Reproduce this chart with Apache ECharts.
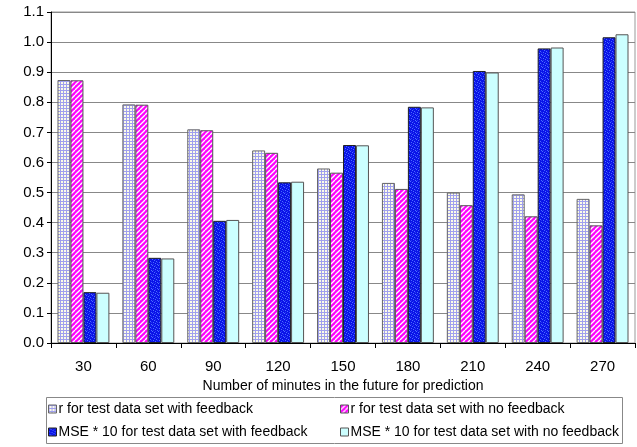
<!DOCTYPE html>
<html>
<head>
<meta charset="utf-8">
<script src="https://cdn.jsdelivr.net/npm/echarts@6/dist/echarts.min.js"></script>
<style>
html,body{margin:0;padding:0;background:#fff;}
#chart{width:637px;height:447px;}
</style>
</head>
<body>
<div id="chart"></div>
<script>
// ---- data ----
const categories = ['30','60','90','120','150','180','210','240','270'];
const seriesNames = [
  'r for test data set with feedback',
  'r for test data set with no feedback',
  'MSE * 10 for test data set with feedback',
  'MSE * 10 for test data set with no feedback'
];
const rFeedback   = [0.874, 0.793, 0.710, 0.640, 0.580, 0.532, 0.500, 0.494, 0.479];
const rNoFeedback = [0.873, 0.792, 0.707, 0.632, 0.566, 0.512, 0.458, 0.421, 0.391];
const mseFeedback   = [0.169, 0.283, 0.406, 0.534, 0.658, 0.785, 0.904, 0.979, 1.016];
const mseNoFeedback = [0.167, 0.281, 0.409, 0.536, 0.657, 0.783, 0.899, 0.982, 1.026];
const yTicks = { min: 0, max: 1.1, interval: 0.1 };

// ---- patterns ----
function makePattern(w, h, draw) {
  const c = document.createElement('canvas');
  c.width = w; c.height = h;
  const ctx = c.getContext('2d');
  draw(ctx, w, h);
  return { image: c, repeat: 'repeat' };
}
const gridPattern = makePattern(3, 3, (ctx) => {
  ctx.fillStyle = '#fbfbe8'; ctx.fillRect(0, 0, 3, 3);
  ctx.fillStyle = '#a0a0ee'; ctx.fillRect(0, 0, 3, 1); ctx.fillRect(0, 0, 1, 3);
});
const stripePattern = makePattern(5, 5, (ctx) => {
  ctx.fillStyle = '#ff00ff'; ctx.fillRect(0, 0, 5, 5);
  ctx.strokeStyle = '#ffffff'; ctx.lineWidth = 1.3;
  for (let k = -5; k <= 10; k += 5) {
    ctx.beginPath(); ctx.moveTo(k, 5); ctx.lineTo(k + 5, 0); ctx.stroke();
  }
});
const bluePattern = makePattern(6, 6, (ctx) => {
  ctx.fillStyle = '#0a14e8'; ctx.fillRect(0, 0, 6, 6);
  ctx.fillStyle = '#4a6cff';
  ctx.fillRect(1, 0, 1, 1); ctx.fillRect(2, 1, 1, 1); ctx.fillRect(4, 2, 1, 1);
  ctx.fillRect(0, 3, 1, 1); ctx.fillRect(3, 4, 1, 1); ctx.fillRect(5, 5, 1, 1);
  ctx.fillStyle = '#2836f0';
  ctx.fillRect(3, 0, 1, 1); ctx.fillRect(5, 1, 1, 1); ctx.fillRect(1, 4, 1, 1);
});
const cyanColor = '#ccffff';

const fills = [gridPattern, stripePattern, bluePattern, cyanColor];
const values = [rFeedback, rNoFeedback, mseFeedback, mseNoFeedback];
const borders = ['#666666', '#555555', '#222222', '#555555'];

const series = seriesNames.map((n, i) => ({
  name: n,
  type: 'bar',
  data: values[i],
  barGap: '0%',
  barCategoryGap: '20%',
  itemStyle: { color: fills[i], borderColor: borders[i], borderWidth: 1 },
  emphasis: { disabled: true },
  animation: false
}));

const font = '"Liberation Sans", Arial, sans-serif';
const legendPos = [
  { left: 48, top: 402 },
  { left: 340, top: 402 },
  { left: 48, top: 425 },
  { left: 340, top: 425 }
];
const legends = seriesNames.map((n, i) => ({
  data: [n],
  left: legendPos[i].left,
  top: legendPos[i].top,
  padding: 0,
  itemWidth: 8,
  itemHeight: 8,
  itemGap: 0,
  selectedMode: false,
  icon: 'rect',
  textStyle: { fontFamily: font, fontSize: 14, color: '#000', padding: [0, 0, 0, -3] },
  itemStyle: { borderColor: borders[i], borderWidth: 1 }
}));

const chart = echarts.init(document.getElementById('chart'), null, { renderer: 'canvas' });
chart.setOption({
  animation: false,
  backgroundColor: '#ffffff',
  grid: { left: 51, right: 2, top: 12, bottom: 104, show: true, borderColor: '#999999', borderWidth: 1 },
  legend: legends,
  graphic: [{
    type: 'rect',
    shape: { x: 46.5, y: 397.5, width: 576, height: 46 },
    style: { fill: 'none', stroke: '#888888', lineWidth: 1 },
    z: -1
  }],
  xAxis: {
    type: 'category',
    data: categories,
    name: 'Number of minutes in the future for prediction',
    nameLocation: 'middle',
    nameGap: 36,
    nameTextStyle: { fontFamily: font, fontSize: 14, color: '#000' },
    axisLine: { lineStyle: { color: '#000', width: 1 } },
    axisTick: { show: true, length: 5, lineStyle: { color: '#000' } },
    axisLabel: { fontFamily: font, fontSize: 15, color: '#000', margin: 16 },
    splitLine: { show: false }
  },
  yAxis: {
    type: 'value',
    min: yTicks.min, max: yTicks.max, interval: yTicks.interval,
    axisLine: { show: true, lineStyle: { color: '#000', width: 1 } },
    axisTick: { show: true, length: 4, lineStyle: { color: '#000' } },
    axisLabel: { fontFamily: font, fontSize: 15, color: '#000', margin: 7,
      formatter: v => v.toFixed(1) },
    splitLine: { show: true, lineStyle: { color: '#888888', width: 1 } }
  },
  series: series
});
</script>
</body>
</html>
